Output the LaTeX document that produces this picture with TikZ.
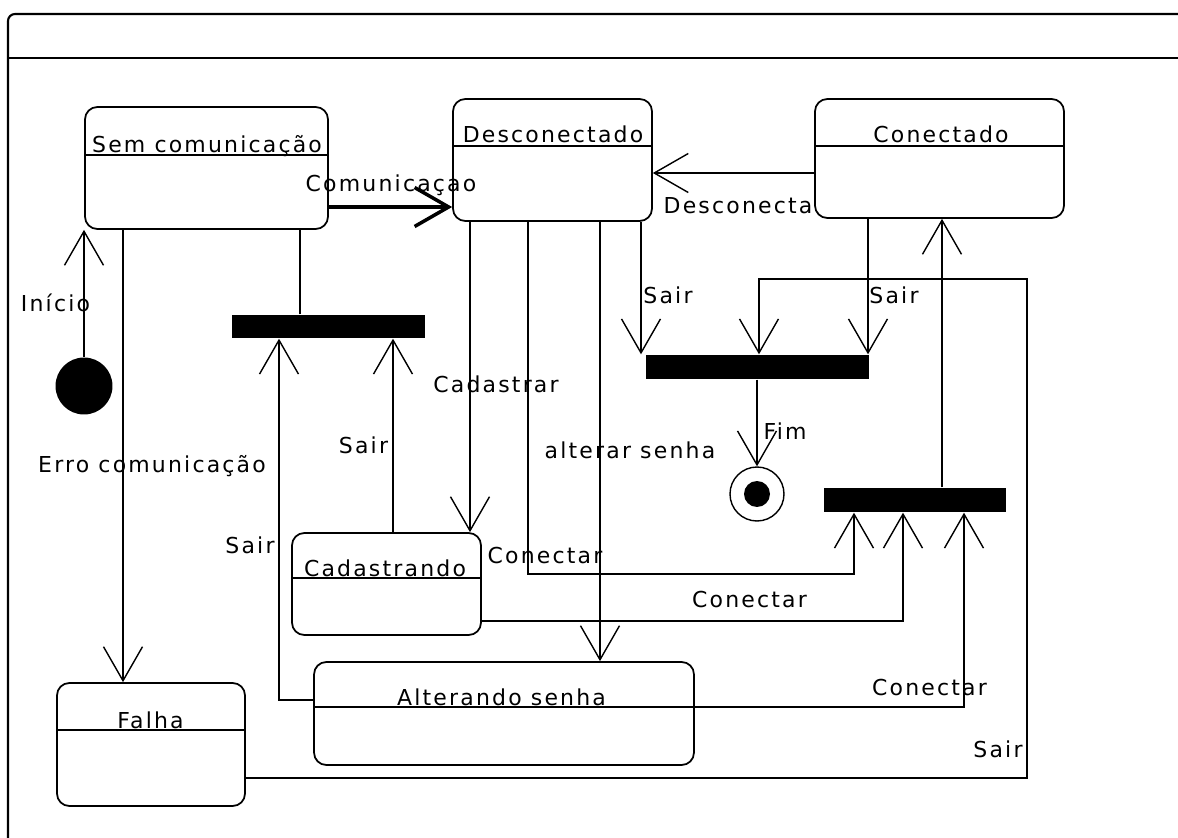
\documentclass[tikz,border=0pt]{standalone}
\usepackage{fontspec}
\setmainfont{DejaVu Sans}[LetterSpace=10]
\usetikzlibrary{arrows.meta}

\tikzset{
  state/.style={draw, rectangle, rounded corners=7pt, line width=1pt, inner sep=0pt},
  bar/.style={fill=black, rectangle, inner sep=0pt},
  lbl/.style={inner sep=0pt, anchor=base},
  arr/.style={-{Straight Barb[length=0.68cm,width=0.78cm]}},
}

\begin{document}
\begin{tikzpicture}[x=0.02cm, y=-0.02cm, line width=0.8pt, font=\fontsize{12.5}{15}\selectfont]
    \useasboundingbox (0,0) rectangle (1178,838);

    % moldura
    \draw[line width=1.2pt, rounded corners=4pt] (8,14) rectangle (1186,846);
    \draw[line width=1.2pt] (8,58) -- (1178,58);

    % estados
    \node[state, minimum width=4.86cm, minimum height=2.44cm] (sem) at (206.5,168) {};
    \node[state, minimum width=3.98cm, minimum height=2.44cm] (desc) at (552.5,160) {};
    \node[state, minimum width=4.98cm, minimum height=2.38cm] (con) at (939.5,158.5) {};
    \node[state, minimum width=3.78cm, minimum height=2.04cm] (cad) at (386.5,584) {};
    \node[state, minimum width=3.76cm, minimum height=2.46cm] (falha) at (151,744.5) {};
    \node[state, minimum width=7.60cm, minimum height=2.06cm] (alt) at (504,713.5) {};

    % cabecalhos
    \draw (sem.west |- 0,155) -- (sem.east |- 0,155);
    \draw (desc.west |- 0,146) -- (desc.east |- 0,146);
    \draw (con.west |- 0,146) -- (con.east |- 0,146);
    \draw (cad.west |- 0,578) -- (cad.east |- 0,578);
    \draw (falha.west |- 0,730) -- (falha.east |- 0,730);
    \draw (alt.west |- 0,707) -- (alt.east |- 0,707);

    \node[lbl] (semT) at (207,153) {Sem comunicação};
    \node[lbl] (descT) at (553,143) {Desconectado};
    \node[lbl] (conT) at (941,143) {Conectado};
    \node[lbl] (cadT) at (385,576) {Cadastrando};
    \node[lbl] (falhaT) at (150.5,728) {Falha};
    \node[lbl] (altT) at (501.5,705) {Alterando senha};

    % inicio e fim
    \node[circle, fill=black, minimum size=1.14cm, inner sep=0pt] (ini) at (84,386) {};
    \node[circle, draw, minimum size=1.08cm, inner sep=0pt] (fim) at (757,494) {};
    \fill (fim) circle (0.26cm);

    % barras
    \node[bar, minimum width=3.86cm, minimum height=0.46cm] (barA) at (328.5,326.5) {};
    \node[bar, minimum width=4.46cm, minimum height=0.48cm] (barB) at (757.5,367) {};
    \node[bar, minimum width=3.64cm, minimum height=0.48cm] (barC) at (915,500) {};

    % transicoes
    \draw[arr] (ini.north) -- (ini |- sem.south);
    \draw[arr] (sem.south -| 123,0) -- (falha.north -| 123,0);
    \draw[arr, line width=2pt] (sem.east |- 0,207) -- (desc.west |- 0,207);
    \draw (barA.north -| 300,0) -- (sem.south -| 300,0);
    \draw[arr] (desc.south -| 470,0) -- (cad.north -| 470,0);
    \draw[arr] (desc.south -| 528,0) |- (854,574) -- (barC.south -| 854,0);
    \draw[arr] (desc.south -| 600,0) -- (alt.north -| 600,0);
    \draw[arr] (desc.south -| 641,0) -- (barB.north -| 641,0);
    \draw[arr] (con.west |- 0,173) -- (desc.east |- 0,173);
    \draw[arr] (con.south -| 868,0) -- (barB.north -| 868,0);
    \draw[arr] (barB.south -| fim) -- (fim.north);
    \draw[arr] (barC.north -| 942,0) -- (con.south -| 942,0);
    \draw[arr] (cad.north -| 393,0) -- (barA.south -| 393,0);
    \draw[arr] (alt.west |- 0,700) -| (barA.south -| 279,0);
    \draw[arr] (cad.east |- 0,621) -| (barC.south -| 903,0);
    \draw[arr] (alt.east |- 0,707) -| (barC.south -| 964,0);
    \draw[arr] (falha.east |- 0,778) -| (1027,279) -| (barB.north -| 759,0);

    % rotulos
    \node[lbl] (lIni) at (55.5,312) {Início};
    \node[lbl] (lCom) at (391,192) {Comunicaçao};
    \node[lbl] (lErro) at (152,472) {Erro comunicação};
    \node[lbl] (lCad) at (496,393) {Cadastrar};
    \node[lbl] (lSairCad) at (363.5,453) {Sair};
    \node[lbl] (lSairAlt) at (250,553) {Sair};
    \node[lbl] (lConDesc) at (545,563) {Conectar};
    \node[lbl] (lAlt) at (630,458) {alterar senha};
    \node[lbl] (lSairDesc) at (668,303) {Sair};
    \node[lbl] (lSairCon) at (894,303) {Sair};
    \node[lbl] (lDesc) at (738,214) {Desconecta};
    \node[lbl] (lFim) at (785,439) {Fim};
    \node[lbl] (lConCad) at (749.5,607) {Conectar};
    \node[lbl] (lConAlt) at (929.5,695) {Conectar};
    \node[lbl] (lSairFalha) at (998,757) {Sair};
\end{tikzpicture}
\end{document}
